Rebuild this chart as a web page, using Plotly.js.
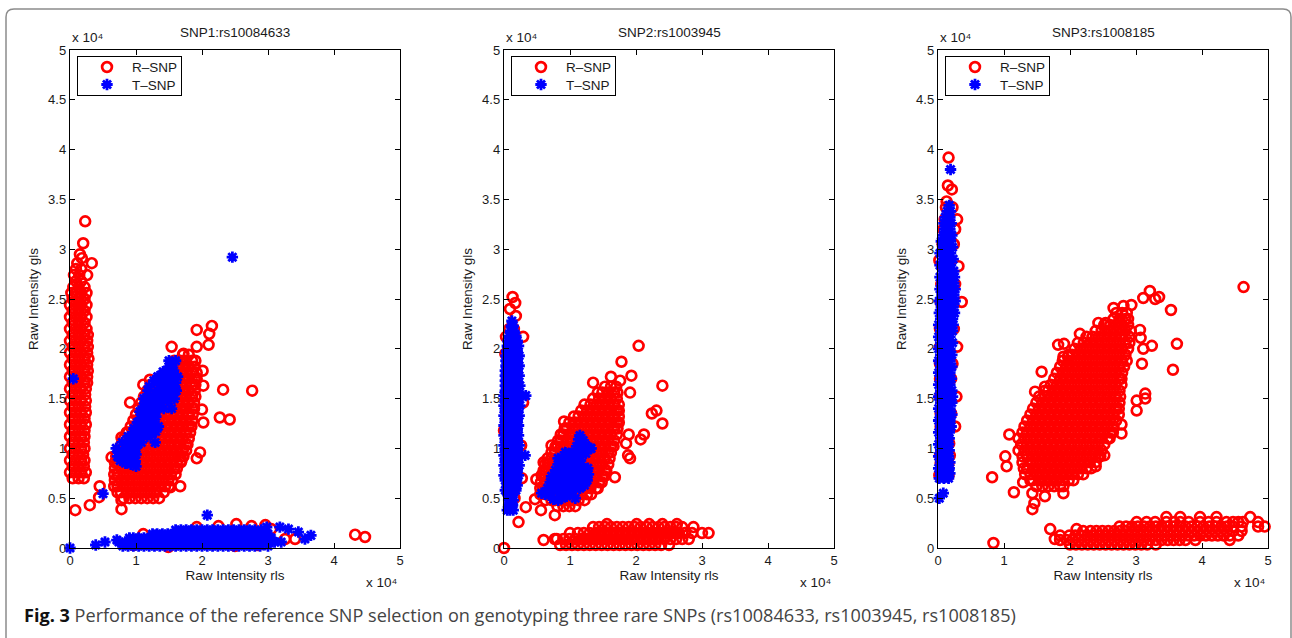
<!DOCTYPE html>
<html><head><meta charset="utf-8">
<script src="https://cdn.plot.ly/plotly-3.0.1.min.js"></script>
<style>html,body{margin:0;padding:0;background:#fff}#c{width:1292px;height:638px}</style></head>
<body><div id="c"></div>
<script>
// Values are in units of 10^4. Row format: [y, x, x, x ...]
const panelTitles = ["SNP1:rs10084633","SNP2:rs1003945","SNP3:rs1008185"];
const tickValues = [0,1,2,3,4,5];
const yTickValues = [0,0.5,1,1.5,2,2.5,3,3.5,4,4.5,5];
const yTickLabels = ["0","0.5","1","1.5","2","2.5","3","3.5","4","4.5","5"];

const s1RColumn = [[.7,.04,.13,.21],[.76,0,.08,.17,.24],[.82,.04,.13,.21],[.88,0,.08,.17,.22],[.94,.04,.13,.2],[1,0,.08,.17,.22],[1.06,.04,.13,.21],[1.12,0,.08,.17,.22],[1.18,.04,.13,.22],[1.24,0,.08,.17,.24],[1.3,.04,.13,.22],[1.36,0,.08,.17,.24],[1.42,.04,.13,.23],[1.48,0,.08,.17,.24],[1.54,.04,.13,.23],[1.6,0,.08,.17,.24],[1.66,.04,.13,.22,.26],[1.72,0,.08,.17,.26],[1.78,.04,.13,.22,.27],[1.84,0,.08,.17,.26],[1.9,.04,.13,.22,.28],[1.96,0,.08,.17,.26],[2.02,.04,.13,.22,.27],[2.08,0,.08,.17,.26],[2.14,.04,.13,.22,.27],[2.2,0,.08,.17,.25],[2.26,.04,.13,.22],[2.32,0,.08,.17,.25],[2.38,.04,.13,.22],[2.44,0,.08,.17,.25],[2.5,.04,.13,.22],[2.56,.02,.09,.17,.25],[2.62,.05,.13,.22],[2.68,.09,.17],[2.74,.06,.14,.26],[2.8,.09,.17],[2.86,.33,.11],[2.91,.18],[2.95,.15],[3.06,.2],[3.28,.23]];
const s1RDiag = [[.5,.81,.9,.99,1.08,1.17,1.26,1.35],[.56,.72,.77,.86,.95,1.04,1.13,1.22,1.31,1.42],[.62,.67,.72,.81,.9,.99,1.08,1.17,1.26,1.35,1.44,1.5],[.68,.68,.77,.86,.95,1.04,1.13,1.22,1.31,1.4,1.49,1.55],[.74,.67,.72,.81,.9,.99,1.08,1.17,1.26,1.35,1.44,1.53,1.6],[.8,.68,.77,.86,.95,1.04,1.13,1.22,1.31,1.4,1.49,1.58,1.62],[.86,.68,.72,.81,.9,.99,1.08,1.17,1.26,1.35,1.44,1.53,1.62,1.68],[.92,.7,.77,.86,.95,1.04,1.13,1.22,1.31,1.4,1.49,1.58,1.67,1.72],[.98,.74,.81,.9,.99,1.08,1.17,1.26,1.35,1.44,1.53,1.62,1.71,1.76],[1.04,.78,.86,.95,1.04,1.13,1.22,1.31,1.4,1.49,1.58,1.67,1.76,1.78],[1.1,.82,.9,.99,1.08,1.17,1.26,1.35,1.44,1.53,1.62,1.71,1.8],[1.16,.88,.95,1.04,1.13,1.22,1.31,1.4,1.49,1.58,1.67,1.76,1.82],[1.22,.92,.99,1.08,1.17,1.26,1.35,1.44,1.53,1.62,1.71,1.8,1.84],[1.28,.96,1.04,1.13,1.22,1.31,1.4,1.49,1.58,1.67,1.76,1.85],[1.34,1,1.08,1.17,1.26,1.35,1.44,1.53,1.62,1.71,1.8,1.86],[1.4,1.04,1.13,1.22,1.31,1.4,1.49,1.58,1.67,1.76,1.85,1.88],[1.46,1.08,1.17,1.26,1.35,1.44,1.53,1.62,1.71,1.8,1.88],[1.52,1.12,1.22,1.31,1.4,1.49,1.58,1.67,1.76,1.85,1.9],[1.58,1.17,1.26,1.35,1.44,1.53,1.62,1.71,1.8,1.89],[1.64,1.22,1.31,1.4,1.49,1.58,1.67,1.76,1.85,1.9],[1.7,1.35,1.44,1.53,1.62,1.71,1.8,1.89,1.92],[1.76,1.49,1.58,1.67,1.76,1.85,1.92],[1.82,1.53,1.62,1.71,1.8,1.89],[1.88,1.58,1.67,1.76,1.85,1.9],[1.94,1.71,1.8]];
const s1ROutX = [.08,.3,.44,.45,.78,.78,.91,1.54,1.92,2.15,2.11,2.1,1.92,2.01,2.02,2.32,2.76,2.27,2.42,2.02,2,1.97,1.92,1.67,1.52,1.69,.63,1.11,1.21,1.72,.78,.86,4.32,4.47];
const s1ROutY = [.38,.43,.51,.62,.39,.48,1.46,2.02,2.19,2.23,2.15,2.04,2.02,1.78,1.63,1.59,1.58,1.31,1.29,1.26,1.39,.96,.9,.62,.61,.88,.91,1.64,1.69,1.95,1.11,1.16,.134,.11];
const s1RBandX = [1.92,2.25,2.52,2.75,2.96,3.05,3.41,3.26,1.11,.96,1.49,2.5,2.85,1.25,2,2.6];
const s1RBandY = [.21,.22,.24,.22,.23,.19,.09,.09,.14,.03,.01,.02,.03,.05,.1,.12];
const s1TSingleX = [.05,2.46,.5,2.08,.53,.39,0,.71,3.65,3.46,3.31,3.18,2.98,3.56];
const s1TSingleY = [1.7,2.92,.545,.33,.06,.03,0,.08,.127,.16,.19,.21,.21,.09];
const s1TBand = [[.02,.8,.88,.96,1.04,1.12,1.2,1.28,1.36,1.44,1.52,1.6,1.68,1.76,1.84,1.92,2,2.08,2.16,2.24,2.32,2.4,2.48,2.56,2.64,2.72,2.8,2.88,3],[.06,.74,.84,.92,1,1.08,1.16,1.24,1.32,1.4,1.48,1.56,1.64,1.72,1.8,1.88,1.96,2.04,2.12,2.2,2.28,2.36,2.44,2.52,2.6,2.68,2.76,2.84,2.92,3,3.1,3.2],[.1,.9,.96,1.04,1.12,1.2,1.28,1.36,1.44,1.52,1.6,1.68,1.76,1.84,1.92,2,2.08,2.16,2.24,2.32,2.4,2.48,2.56,2.64,2.72,2.8,2.88,2.96,3.05],[.14,1.25,1.32,1.4,1.48,1.56,1.64,1.72,1.8,1.88,1.96,2.04,2.12,2.2,2.28,2.36,2.44,2.52,2.6,2.68,2.76,2.84,2.92,3],[.18,1.6,1.68,1.76,1.84,1.92,2,2.08,2.16,2.24,2.32,2.4,2.48,2.56,2.64,2.72,2.8,2.9]];
const s1TDiagX = [.76,.84,.92,.99,.76,.84,.92,1,.83,.91,.99,.79,.87,.95,1.03,.88,.96,1.02,.84,.92,1,.83,.9,.98,1.29,1.54,.96,1.03,1.1,1.17,1.24,.97,1.05,1.13,1.21,1.3,1.02,1.1,1.18,1.26,1.34,1.07,1.14,1.22,1.3,1.06,1.14,1.22,1.3,1.11,1.19,1.27,1.35,1.42,1.15,1.23,1.31,1.39,1.47,1.18,1.26,1.34,1.42,1.5,1.58,1.32,1.4,1.48,1.56,1.35,1.43,1.51,1.59,1.37,1.45,1.53,1.61,1.33,1.4,1.48,1.54,1.5,1.57,1.63,1.5,1.56,1.5,1.53,1.6,1.54,1.52,.72,.7,.74,.9,.98,1.08,1.12,1.18,1.24,1.2,1.27,1.33,1.41,1.46,1.6,1.55];
const s1TDiagY = [.88,.85,.9,.87,.94,.97,.95,.94,1.0,1.02,1.0,1.06,1.05,1.07,1.04,1.12,1.11,1.1,.88,.84,.82,.92,.9,.96,1.06,1.4,1.16,1.13,1.15,1.12,1.14,1.2,1.21,1.18,1.21,1.17,1.26,1.24,1.27,1.25,1.22,1.3,1.33,1.3,1.32,1.37,1.36,1.39,1.37,1.42,1.44,1.41,1.43,1.4,1.48,1.47,1.5,1.46,1.48,1.54,1.52,1.55,1.53,1.51,1.5,1.58,1.6,1.57,1.55,1.64,1.62,1.65,1.6,1.7,1.68,1.72,1.58,1.72,1.74,1.66,1.7,1.76,1.78,1.72,1.82,1.86,1.88,1.83,1.88,1.78,1.74,.92,1,.96,1.1,1.02,1.06,1.5,1.58,1.42,1.62,1.68,1.72,1.77,1.75,1.66,1.66,1.5];

const s2RColumn = [[.5,.1,.16],[.6,.08,.16],[.7,.08,.16],[.8,.07,.16],[.9,.08,.16],[1,.08,.16],[1.03,.26],[1.1,.08,.15],[1.18,0,.14],[1.25,.08,.16],[1.35,.08,.15],[1.46,.07,.29],[1.55,.08,.16],[1.65,.07,.17],[1.75,.08,.16],[1.85,.07,.15],[1.95,.02,.15],[2.05,.08,.15],[2.12,.03,.29],[2.2,.08,.15],[2.33,.18],[2.4,.09],[2.46,.17],[2.52,.13],[.7,.27],[.41,.33],[.26,.22],[0,0]];
const s2TColumn = [[.38,.05,.09,.14],[.43,.07,.13],[.48,.07,.14],[.53,.06,.13],[.58,.02,.1,.18],[.63,.05,.14,.2],[.68,.02,.1,.19],[.73,0,.06,.15,.22],[.78,.02,.1,.2],[.83,0,.06,.15,.23],[.88,.02,.1,.2],[.93,0,.06,.15,.23,.32],[.98,.02,.1,.2],[1.03,0,.06,.15,.23],[1.08,.02,.1,.2],[1.13,0,.06,.15,.22],[1.18,.02,.1,.2],[1.23,0,.06,.15,.22],[1.28,.02,.1,.2],[1.33,0,.06,.15,.23],[1.38,.02,.11,.21],[1.43,0,.06,.16,.24],[1.48,.02,.11,.21],[1.53,0,.06,.16,.25,.33],[1.58,.02,.11,.21],[1.63,.02,.07,.16,.24],[1.68,.02,.12,.2],[1.73,.02,.07,.16,.23],[1.78,.02,.12,.2],[1.83,.03,.08,.16,.23],[1.88,.03,.12,.2],[1.93,.03,.08,.16,.23],[1.98,.04,.12,.2],[2.03,.05,.09,.17,.22],[2.08,.06,.13,.2],[2.13,.08,.15,.18],[2.18,.1,.15],[2.23,.11,.14],[2.28,.12]];
const s2RDiag = [[.42,.81,.9,.99,1.08],[.48,.63,.72,.77,.86,.95,1.04,1.13,1.22],[.54,.55,.63,.72,.81,.9,.99,1.08,1.17,1.26,1.32],[.6,.55,.59,.68,.77,.86,.95,1.04,1.13,1.22,1.31,1.4,1.42],[.66,.56,.63,.72,.81,.9,.99,1.08,1.17,1.26,1.35,1.44,1.48],[.72,.58,.68,.77,.86,.95,1.04,1.13,1.22,1.31,1.4,1.49,1.52],[.78,.6,.63,.72,.81,.9,.99,1.08,1.17,1.26,1.35,1.44,1.53,1.55],[.84,.62,.68,.77,.86,.95,1.04,1.13,1.22,1.31,1.4,1.49,1.58],[.9,.66,.72,.81,.9,.99,1.08,1.17,1.26,1.35,1.44,1.53,1.6],[.96,.72,.77,.86,.95,1.04,1.13,1.22,1.31,1.4,1.49,1.58,1.62],[1.02,.78,.81,.9,.99,1.08,1.17,1.26,1.35,1.44,1.53,1.62,1.66],[1.08,.82,.86,.95,1.04,1.13,1.22,1.31,1.4,1.49,1.58,1.67],[1.14,.86,.9,.99,1.08,1.17,1.26,1.35,1.44,1.53,1.62,1.71],[1.2,.92,.95,1.04,1.13,1.22,1.31,1.4,1.49,1.58,1.67,1.72],[1.26,.99,1.08,1.17,1.26,1.35,1.44,1.53,1.62,1.71,1.74],[1.32,1.06,1.13,1.22,1.31,1.4,1.49,1.58,1.67,1.74],[1.38,1.17,1.26,1.35,1.44,1.53,1.62,1.71,1.74],[1.44,1.22,1.31,1.4,1.49,1.58,1.67,1.74],[1.5,1.35,1.44,1.53,1.62,1.71],[1.56,1.42,1.49,1.58,1.67,1.72],[1.62,1.53,1.62,1.7]];
const s2ROutX = [2.04,1.78,1.93,1.35,1.62,1.76,1.91,2.4,2.24,2.31,2.4,2.12,2.07,1.89,1.85,1.88,1.91,.91,.72,.6,.66,.49,.57,.47,.56,.77,1.68,.6,.77];
const s2ROutY = [2.03,1.87,1.73,1.66,1.72,1.68,1.56,1.63,1.35,1.38,1.25,1.14,1.09,1.14,1.05,.93,.9,1.27,1.03,.86,.85,.69,.73,.49,.38,.33,.71,.08,.09];
const s2RBand = [[.03,.85,.94,1.03,1.12,1.21,1.3,1.39,1.48,1.57,1.66,1.75,1.84,1.93,2.02,2.11,2.2,2.29,2.38,2.5],[.09,.8,.9,.99,1.08,1.17,1.26,1.35,1.44,1.53,1.62,1.71,1.8,1.89,1.98,2.07,2.16,2.25,2.34,2.43,2.52,2.61,2.7,2.8],[.15,1,1.12,1.21,1.3,1.39,1.48,1.57,1.66,1.75,1.84,1.93,2.02,2.11,2.2,2.29,2.38,2.47,2.56,2.65,2.74,2.85,3,3.1],[.21,1.35,1.44,1.53,1.62,1.71,1.8,1.89,1.98,2.07,2.16,2.25,2.34,2.43,2.52,2.61,2.7,2.87],[.24,1.56,2.01,2.2,2.4,2.62]];
const s2TDiagX = [.57,.62,.68,.75,.82,.88,.95,1.02,.66,.73,.8,.87,.94,1.01,1.08,1.15,1.22,.7,.77,.84,.91,.98,1.05,1.12,1.19,1.26,.72,.79,.86,.93,1,1.07,1.14,1.21,1.28,.78,.85,.92,.99,1.06,1.13,1.2,1.27,.82,.89,.96,1.03,1.1,1.17,.82,.88,.95,1.02,1.09,1.16,.93,1,1.08,1.16,1.24,1.32,1.1,1.17,1.24,1.31,1.13,1.2,1.15,1.08];
const s2TDiagY = [.55,.54,.53,.49,.48,.5,.52,.55,.6,.59,.57,.55,.6,.58,.6,.6,.63,.66,.65,.63,.66,.64,.66,.65,.66,.68,.72,.71,.73,.7,.72,.71,.73,.72,.74,.78,.77,.8,.78,.79,.77,.79,.8,.84,.83,.85,.83,.86,.84,.9,.9,.9,.91,.89,.88,.96,.95,.96,.97,.95,1,1.02,1.01,1.03,1,1.09,1.08,1.13,.5];

const s3RColumn = [[.73,.16,.02],[.85,.16,.04],[.93,.03,.18],[1.05,.05,.17],[1.22,.26,.04],[1.35,.04,.2],[1.52,.28,.03],[1.7,.03,.2],[1.85,.03,.22],[2.02,.29,.03],[2.2,.03,.24],[2.47,.36,.04],[2.65,.05,.26],[2.83,.31,.06],[2.89,.02],[3.05,.24,.07],[3.2,.26,.08],[3.3,.29,.1],[3.42,.22,.12],[3.48,.13],[3.6,.21],[3.64,.15],[3.92,.16]];
const s3TColumn = [[.5,.02],[.55,.08],[.7,.02,.09,.16],[.75,.04,.12,.18],[.8,.01,.09,.17],[.86,.04,.12,.18],[.92,.01,.09,.16],[.98,.04,.12,.17],[1.04,.01,.09,.16],[1.1,.04,.12,.17],[1.16,.01,.09,.17],[1.22,.04,.12,.2],[1.28,.01,.09,.18],[1.34,.04,.12,.21],[1.4,.01,.09,.18],[1.46,.04,.12,.21],[1.52,.01,.09,.18,.22],[1.58,.04,.12,.21],[1.64,.01,.09,.18],[1.7,.04,.12,.2],[1.76,.01,.09,.18],[1.82,.04,.12,.21],[1.88,.01,.09,.18],[1.94,.04,.12,.21],[2,.01,.09,.18],[2.06,.04,.12,.22],[2.12,.01,.09,.18],[2.18,.04,.12,.22],[2.24,.01,.09,.18,.23],[2.3,.04,.12,.22],[2.36,.02,.1,.18,.25],[2.42,.05,.14,.23],[2.48,.02,.1,.19,.26],[2.54,.06,.15,.24],[2.6,.03,.11,.19,.26],[2.66,.06,.15,.24],[2.72,.03,.11,.19,.25],[2.78,.07,.15,.24],[2.84,.03,.11,.19],[2.9,.07,.15,.23],[2.96,.03,.11,.19],[3.02,.07,.15,.22],[3.08,.05,.11,.19],[3.14,.08,.15,.21],[3.2,.1,.18],[3.26,.09,.15,.2],[3.32,.11,.18],[3.38,.14,.19],[3.44,.17],[3.8,.19]];
const s3RDiag = [[.62,1.49,1.58,1.67,1.76,1.85,1.9],[.68,1.4,1.44,1.53,1.62,1.71,1.8,1.89,1.98,2.05],[.74,1.32,1.4,1.49,1.58,1.67,1.76,1.85,1.94,2.03,2.12,2.2],[.8,1.3,1.35,1.44,1.53,1.62,1.71,1.8,1.89,1.98,2.07,2.16,2.25,2.32],[.86,1.28,1.4,1.49,1.58,1.67,1.76,1.85,1.94,2.03,2.12,2.21,2.3,2.39],[.92,1.28,1.35,1.44,1.53,1.62,1.71,1.8,1.89,1.98,2.07,2.16,2.25,2.34,2.43,2.46],[.98,1.22,1.31,1.4,1.49,1.58,1.67,1.76,1.85,1.94,2.03,2.12,2.21,2.3,2.39,2.48],[1.04,1.26,1.35,1.44,1.53,1.62,1.71,1.8,1.89,1.98,2.07,2.16,2.25,2.34,2.43,2.52],[1.1,1.22,1.31,1.4,1.49,1.58,1.67,1.76,1.85,1.94,2.03,2.12,2.21,2.3,2.39,2.48,2.57,2.6],[1.16,1.28,1.35,1.44,1.53,1.62,1.71,1.8,1.89,1.98,2.07,2.16,2.25,2.34,2.43,2.52,2.61,2.65],[1.22,1.31,1.4,1.49,1.58,1.67,1.76,1.85,1.94,2.03,2.12,2.21,2.3,2.39,2.48,2.57,2.66],[1.28,1.35,1.44,1.53,1.62,1.71,1.8,1.89,1.98,2.07,2.16,2.25,2.34,2.43,2.52,2.61,2.7],[1.34,1.4,1.49,1.58,1.67,1.76,1.85,1.94,2.03,2.12,2.21,2.3,2.39,2.48,2.57,2.66,2.74],[1.4,1.44,1.53,1.62,1.71,1.8,1.89,1.98,2.07,2.16,2.25,2.34,2.43,2.52,2.61,2.7,2.74],[1.46,1.49,1.58,1.67,1.76,1.85,1.94,2.03,2.12,2.21,2.3,2.39,2.48,2.57,2.66,2.75],[1.52,1.53,1.62,1.71,1.8,1.89,1.98,2.07,2.16,2.25,2.34,2.43,2.52,2.61,2.7,2.76],[1.58,1.62,1.67,1.76,1.85,1.94,2.03,2.12,2.21,2.3,2.39,2.48,2.57,2.66,2.75],[1.64,1.71,1.8,1.89,1.98,2.07,2.16,2.25,2.34,2.43,2.52,2.61,2.7,2.78],[1.7,1.76,1.85,1.94,2.03,2.12,2.21,2.3,2.39,2.48,2.57,2.66,2.75,2.78],[1.76,1.8,1.89,1.98,2.07,2.16,2.25,2.34,2.43,2.52,2.61,2.7,2.79],[1.82,1.85,1.94,2.03,2.12,2.21,2.3,2.39,2.48,2.57,2.66,2.75,2.82],[1.88,1.89,1.98,2.07,2.16,2.25,2.34,2.43,2.52,2.61,2.7,2.79,2.86],[1.94,1.98,2.03,2.12,2.21,2.3,2.39,2.48,2.57,2.66,2.75,2.84],[2,2.07,2.16,2.25,2.34,2.43,2.52,2.61,2.7,2.79,2.88],[2.06,2.12,2.21,2.3,2.39,2.48,2.57,2.66,2.75,2.84,2.9],[2.12,2.25,2.34,2.43,2.52,2.61,2.7,2.79,2.9],[2.18,2.39,2.48,2.57,2.66,2.75,2.84,2.92],[2.24,2.52,2.61,2.7,2.79,2.88],[2.3,2.66,2.75,2.84,2.88],[2.36,2.7,2.79,2.86]];
const s3ROutX = [4.63,3.21,3.11,3.29,3.35,3.53,3.62,3.24,3.11,3.09,3.56,3.14,3.14,3.01,3.01,2.78,2.78,2.15,1.82,1.91,1.9,1.97,1.57,1.47,1.62,1.08,2.66,2.81,2.93,2.43,2.54,3.06,3.07,1.02,1.04,.82,1.15,1.62,1.43,1.46,1.43,1.9,1.29,2.39,2.52,.84];
const s3ROutY = [2.62,2.58,2.51,2.5,2.52,2.39,2.05,2.03,2,1.85,1.79,1.55,1.5,1.48,1.38,1.24,1.15,2.15,2.04,2.05,1.92,1.92,1.77,1.57,1.62,1.14,2.41,2.43,2.44,2.26,2.26,2.19,2.11,.92,.82,.71,.56,.52,.55,.45,.39,.55,.66,.82,.93,.05];
const s3RBand = [[.035,2,2.09,2.18,2.27,2.36,2.45,2.54,2.63,2.72,2.81,2.9,2.99,3.08,3.17,3.3],[.08,1.85,1.95,2.04,2.13,2.22,2.31,2.4,2.49,2.58,2.67,2.76,2.85,2.94,3.03,3.12,3.21,3.3,3.39,3.48,3.57,3.66,3.75,3.9,4.42],[.125,1.85,1.99,2.08,2.17,2.26,2.35,2.44,2.53,2.62,2.71,2.8,2.89,2.98,3.07,3.16,3.25,3.34,3.43,3.52,3.61,3.7,3.79,3.88,3.97,4.06,4.15,4.24,4.33,4.42,4.55],[.17,2.2,2.31,2.4,2.49,2.58,2.67,2.76,2.85,2.94,3.03,3.12,3.21,3.3,3.39,3.48,3.57,3.66,3.75,3.84,3.93,4.02,4.11,4.2,4.29,4.38,4.47,4.6],[.215,2.75,2.85,2.94,3.03,3.12,3.21,3.3,3.39,3.48,3.57,3.66,3.75,3.84,3.93,4.02,4.11,4.2,4.29,4.38,4.47,4.6,4.85,4.95],[.26,3.01,3.16,3.29,3.46,3.58,3.67,3.8,3.97,4.1,4.22,4.37,4.47,4.55,4.62,4.85],[.31,3.46,3.67,3.97,4.22,4.73],[.19,1.7,2.1],[.09,1.77]];

// Expand the rows into x and y lists for the library.
function rows(r){const x=[],y=[];r.forEach(q=>{q.slice(1).forEach(v=>{x.push(v);y.push(q[0]);});});return {x,y};}
function join(){const x=[],y=[];for(const p of arguments){x.push(...p.x);y.push(...p.y);}return {x,y};}

const rPts = [
  join(rows(s1RColumn),rows(s1RDiag),{x:s1ROutX,y:s1ROutY},{x:s1RBandX,y:s1RBandY}),
  join(rows(s2RColumn),rows(s2RDiag),{x:s2ROutX,y:s2ROutY},rows(s2RBand)),
  join(rows(s3RColumn),rows(s3RDiag),{x:s3ROutX,y:s3ROutY},rows(s3RBand))
];
const tPts = [
  join({x:s1TSingleX,y:s1TSingleY},rows(s1TBand),{x:s1TDiagX,y:s1TDiagY}),
  join(rows(s2TColumn),{x:s2TDiagX,y:s2TDiagY}),
  rows(s3TColumn)
];

const W=1292,H=638,FONT="Liberation Sans, Arial, sans-serif",INK="#1a1a1a";
const lefts=[70,504,938],widthP=330,topP=50,botP=548;
const traces=[],layout={width:W,height:H,margin:{l:0,r:0,t:0,b:0},paper_bgcolor:"#fff",plot_bgcolor:"#fff",font:{family:FONT,size:13,color:INK},annotations:[],shapes:[],showlegend:true};

lefts.forEach((L,i)=>{
  const s=i?String(i+1):"";
  const lg=i?"legend"+(i+1):"legend";
  traces.push({type:"scatter",mode:"markers",x:rPts[i].x,y:rPts[i].y,name:"R\u2013SNP",xaxis:"x"+s,yaxis:"y"+s,legend:lg,cliponaxis:false,
    marker:{symbol:"circle-open",size:9.8,color:"#ff0000",line:{color:"#ff0000",width:2.7}}});
  traces.push({type:"scatter",mode:"markers",x:tPts[i].x,y:tPts[i].y,name:"T\u2013SNP",xaxis:"x"+s,yaxis:"y"+s,legend:lg,cliponaxis:false,
    marker:{symbol:"asterisk-open",size:9.5,color:"#0000ff",line:{color:"#0000ff",width:2.8}}});
  layout["xaxis"+s]={domain:[L/W,(L+widthP)/W],range:[0,5],tickvals:tickValues,ticktext:tickValues.map(String),ticks:"inside",ticklen:5,tickwidth:1,tickcolor:"#000",showline:true,linecolor:"#000",linewidth:1.2,mirror:"ticks",showgrid:false,zeroline:false,anchor:"y"+s,tickfont:{size:13,color:INK,family:FONT},
    title:{text:"Raw Intensity rls",font:{size:13.5,color:INK,family:FONT},standoff:3}};
  layout["yaxis"+s]={domain:[1-botP/H,1-topP/H],range:[0,5],tickvals:yTickValues,ticktext:yTickLabels,ticks:"inside",ticklen:5,tickwidth:1,tickcolor:"#000",showline:true,linecolor:"#000",linewidth:1.2,mirror:"ticks",showgrid:false,zeroline:false,anchor:"x"+s,tickfont:{size:13,color:INK,family:FONT},
    title:{text:"Raw Intensity gls",font:{size:13.5,color:INK,family:FONT},standoff:6}};
  layout[lg]={x:(L+7)/W,y:1-56/H,xanchor:"left",yanchor:"top",bgcolor:"#fff",bordercolor:"#000",borderwidth:1,itemwidth:50,itemclick:false,font:{size:13.5,color:INK,family:FONT},tracegroupgap:0};
  const ann=(x,y,text,size,anchor)=>layout.annotations.push({xref:"paper",yref:"paper",x:x/W,y:1-y/H,text,showarrow:false,xanchor:anchor,yanchor:"middle",font:{size,color:INK,family:FONT}});
  ann(L+165,33,panelTitles[i],13.5,"center");
  ann(L,38,"x 10\u2074",13.5,"left");
  ann(L+330,582,"x 10\u2074",13.5,"right");
});

// Page frame and caption
layout.shapes.push({type:"path",xref:"paper",yref:"paper",layer:"below",
  path:`M ${6/W} 0 L ${6/W} ${1-17/H} Q ${6/W} ${1-9/H} ${14/W} ${1-9/H} L ${1283/W} ${1-9/H} Q ${1291/W} ${1-9/H} ${1291/W} ${1-17/H} L ${1291/W} 0`,
  line:{color:"#8c8c8c",width:1.5}});
layout.annotations.push({xref:"paper",yref:"paper",x:22/W,y:1-615/H,xanchor:"left",yanchor:"middle",showarrow:false,
  text:"<b style=\"color:#111\">Fig. 3</b> Performance of the reference SNP selection on genotyping three rare SNPs (rs10084633, rs1003945, rs1008185)",
  font:{family:"Open Sans, Noto Sans, sans-serif",size:18.1,color:"#444"}});

function tightenLegends(gd){
  // Tighten the legend boxes to the reference's compact row spacing.
  gd.querySelectorAll("g.legend,g.legend2,g.legend3").forEach(l=>{
    const bg=l.querySelector("rect.bg");
    if(bg){bg.setAttribute("height","39");bg.setAttribute("width","104");}
    l.querySelectorAll("g.traces").forEach((t,k)=>{
      t.setAttribute("transform",`translate(0,${11+k*17.5})`);
      t.querySelectorAll("text").forEach(tx=>tx.setAttribute("x","55"));
    });
    const sc=l.querySelector("g.scrollbox");
    if(sc) sc.removeAttribute("clip-path");
  });
}
Plotly.newPlot("c",traces,layout,{staticPlot:true,displayModeBar:false}).then(gd=>{
  tightenLegends(gd);
  setTimeout(()=>tightenLegends(gd),30);
  setTimeout(()=>tightenLegends(gd),200);
});
</script></body></html>
